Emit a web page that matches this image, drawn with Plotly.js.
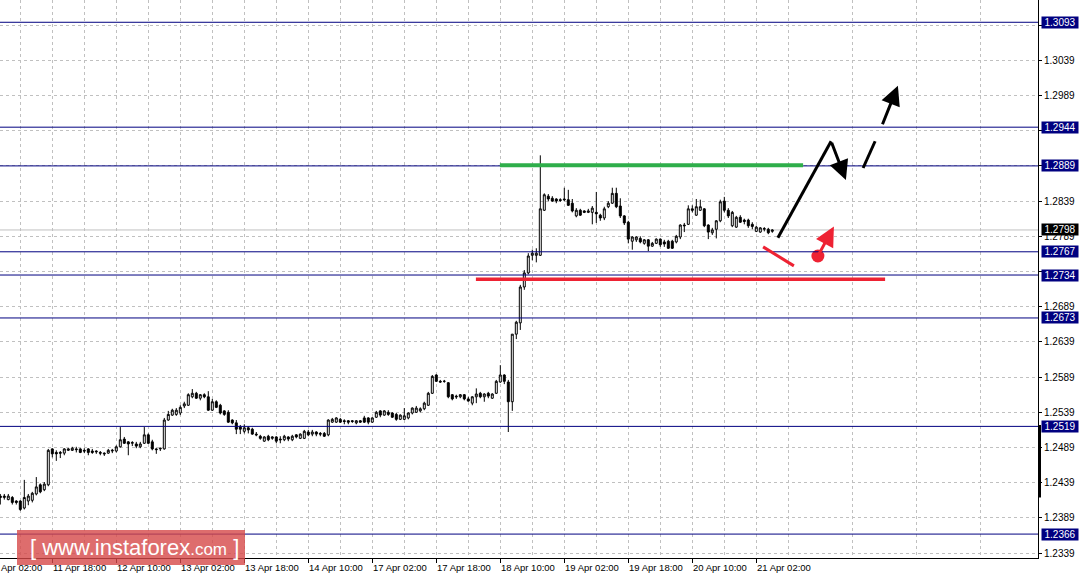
<!DOCTYPE html>
<html><head><meta charset="utf-8">
<script src="https://cdn.plot.ly/plotly-3.0.1.min.js"></script>
<style>html,body{margin:0;padding:0;background:#fff;overflow:hidden}#chart{width:1080px;height:581px}</style>
</head><body><div id="chart"></div>
<script>
// ---- data (GBPUSD H1) ----
const openP = [
1.2420,1.2418,1.2415,1.2418,1.2413,1.2413,1.2403,1.2413,1.2414,1.2423,
1.2436,1.2429,1.2436,1.2487,1.2482,1.2482,1.2481,1.2485,1.2485,1.2487,
1.2487,1.2485,1.2487,1.2484,1.2484,1.2482,1.2481,1.2481,1.2484,1.2484,
1.2490,1.2501,1.2497,1.2495,1.2494,1.2490,1.2495,1.2507,1.2497,1.2487,
1.2487,1.2487,1.2528,1.2535,1.2536,1.2538,1.2548,1.2549,1.2561,1.2566,
1.2559,1.2564,1.2561,1.2542,1.2554,1.2549,1.2541,1.2539,1.2528,1.2524,
1.2518,1.2512,1.2517,1.2515,1.2508,1.2505,1.2498,1.2505,1.2502,1.2504,
1.2501,1.2500,1.2504,1.2500,1.2507,1.2502,1.2502,1.2511,1.2508,1.2511,
1.2509,1.2509,1.2507,1.2525,1.2525,1.2529,1.2527,1.2527,1.2527,1.2524,
1.2527,1.2531,1.2531,1.2525,1.2532,1.2541,1.2535,1.2539,1.2538,1.2536,
1.2529,1.2529,1.2531,1.2538,1.2539,1.2541,1.2544,1.2549,1.2566,1.2592,
1.2583,1.2583,1.2581,1.2564,1.2562,1.2561,1.2564,1.2558,1.2552,1.2561,
1.2566,1.2561,1.2566,1.2559,1.2566,1.2582,1.2592,1.2582,1.2554,1.2650,
1.2666,1.2717,1.2737,1.2762,1.2762,1.2762,1.2826,1.2846,1.2843,1.2842,
1.2841,1.2842,1.2841,1.2836,1.2818,1.2826,1.2825,1.2823,1.2823,1.2823,
1.2819,1.2815,1.2831,1.2836,1.2850,1.2832,1.2818,1.2809,1.2782,1.2784,
1.2786,1.2779,1.2784,1.2775,1.2779,1.2785,1.2781,1.2782,1.2782,1.2781,
1.2788,1.2805,1.2806,1.2828,1.2819,1.2826,1.2828,1.2805,1.2794,1.2799,
1.2811,1.2839,1.2826,1.2804,1.2802,1.2816,1.2812,1.2812,1.2806,1.2796,
1.2795,1.2799,1.2799,1.2796];
const highP = [
1.2423,1.2423,1.2423,1.2420,1.2414,1.2414,1.2443,1.2423,1.2426,1.2447,
1.2438,1.2440,1.2487,1.2488,1.2485,1.2484,1.2488,1.2488,1.2490,1.2490,
1.2488,1.2488,1.2488,1.2487,1.2485,1.2484,1.2482,1.2487,1.2487,1.2492,
1.2518,1.2504,1.2498,1.2498,1.2497,1.2497,1.2518,1.2509,1.2500,1.2488,
1.2488,1.2531,1.2541,1.2544,1.2545,1.2549,1.2554,1.2566,1.2572,1.2568,
1.2565,1.2566,1.2569,1.2558,1.2556,1.2551,1.2542,1.2542,1.2529,1.2528,
1.2521,1.2522,1.2519,1.2517,1.2511,1.2507,1.2505,1.2507,1.2505,1.2505,
1.2505,1.2507,1.2505,1.2507,1.2508,1.2509,1.2514,1.2514,1.2514,1.2512,
1.2511,1.2511,1.2529,1.2531,1.2532,1.2531,1.2529,1.2528,1.2528,1.2528,
1.2528,1.2534,1.2532,1.2532,1.2541,1.2542,1.2542,1.2542,1.2539,1.2538,
1.2536,1.2545,1.2539,1.2546,1.2548,1.2546,1.2554,1.2568,1.2592,1.2593,
1.2585,1.2585,1.2582,1.2565,1.2564,1.2565,1.2565,1.2561,1.2562,1.2573,
1.2568,1.2566,1.2568,1.2566,1.2585,1.2606,1.2593,1.2585,1.2650,1.2669,
1.2720,1.2741,1.2765,1.2770,1.2772,1.2904,1.2850,1.2849,1.2846,1.2843,
1.2843,1.2858,1.2855,1.2842,1.2829,1.2828,1.2826,1.2828,1.2832,1.2852,
1.2821,1.2831,1.2839,1.2858,1.2858,1.2843,1.2819,1.2811,1.2789,1.2789,
1.2789,1.2785,1.2785,1.2781,1.2786,1.2786,1.2784,1.2784,1.2784,1.2791,
1.2806,1.2808,1.2833,1.2833,1.2842,1.2841,1.2829,1.2806,1.2801,1.2812,
1.2841,1.2845,1.2829,1.2825,1.2818,1.2819,1.2814,1.2814,1.2809,1.2804,
1.2802,1.2802,1.2801,1.2799];
const lowP = [
1.2408,1.2415,1.2414,1.2408,1.2408,1.2399,1.2401,1.2407,1.2411,1.2421,
1.2424,1.2427,1.2434,1.2475,1.2470,1.2474,1.2478,1.2484,1.2484,1.2482,
1.2481,1.2481,1.2478,1.2480,1.2480,1.2478,1.2477,1.2480,1.2481,1.2482,
1.2489,1.2494,1.2478,1.2491,1.2488,1.2488,1.2494,1.2494,1.2485,1.2480,
1.2484,1.2486,1.2527,1.2534,1.2534,1.2535,1.2545,1.2548,1.2559,1.2558,
1.2556,1.2559,1.2541,1.2541,1.2545,1.2536,1.2534,1.2524,1.2522,1.2508,
1.2508,1.2509,1.2509,1.2507,1.2505,1.2500,1.2497,1.2498,1.2500,1.2495,
1.2495,1.2498,1.2498,1.2498,1.2502,1.2501,1.2501,1.2505,1.2505,1.2505,
1.2505,1.2504,1.2505,1.2524,1.2524,1.2524,1.2522,1.2522,1.2524,1.2522,
1.2524,1.2524,1.2522,1.2524,1.2531,1.2532,1.2534,1.2534,1.2531,1.2527,
1.2528,1.2528,1.2529,1.2536,1.2538,1.2539,1.2542,1.2548,1.2565,1.2582,
1.2581,1.2581,1.2559,1.2556,1.2558,1.2559,1.2556,1.2554,1.2549,1.2552,
1.2559,1.2554,1.2559,1.2558,1.2565,1.2581,1.2579,1.2511,1.2541,1.2643,
1.2656,1.2713,1.2735,1.2755,1.2752,1.2761,1.2825,1.2839,1.2838,1.2836,
1.2838,1.2839,1.2832,1.2823,1.2816,1.2818,1.2822,1.2822,1.2806,1.2808,
1.2811,1.2812,1.2829,1.2835,1.2829,1.2815,1.2805,1.2779,1.2770,1.2781,
1.2779,1.2777,1.2768,1.2774,1.2778,1.2774,1.2774,1.2771,1.2771,1.2779,
1.2785,1.2795,1.2805,1.2823,1.2818,1.2825,1.2802,1.2785,1.2791,1.2786,
1.2809,1.2823,1.2815,1.2802,1.2801,1.2808,1.2806,1.2801,1.2799,1.2795,
1.2794,1.2796,1.2792,1.2794];
const closeP = [
1.2418,1.2420,1.2420,1.2411,1.2411,1.2401,1.2418,1.2420,1.2424,1.2433,
1.2426,1.2437,1.2485,1.2480,1.2480,1.2481,1.2487,1.2487,1.2488,1.2486,
1.2482,1.2484,1.2482,1.2482,1.2483,1.2481,1.2480,1.2485,1.2485,1.2490,
1.2500,1.2495,1.2494,1.2496,1.2491,1.2494,1.2507,1.2495,1.2487,1.2486,
1.2488,1.2528,1.2536,1.2542,1.2542,1.2546,1.2551,1.2564,1.2566,1.2559,
1.2564,1.2561,1.2542,1.2554,1.2546,1.2538,1.2536,1.2525,1.2524,1.2515,
1.2515,1.2517,1.2514,1.2508,1.2507,1.2502,1.2504,1.2500,1.2504,1.2498,
1.2500,1.2505,1.2501,1.2505,1.2504,1.2508,1.2512,1.2507,1.2511,1.2508,
1.2508,1.2505,1.2528,1.2529,1.2531,1.2525,1.2526,1.2525,1.2526,1.2527,
1.2525,1.2525,1.2525,1.2531,1.2539,1.2535,1.2541,1.2536,1.2532,1.2529,
1.2535,1.2534,1.2538,1.2545,1.2545,1.2544,1.2552,1.2566,1.2590,1.2583,
1.2582,1.2583,1.2561,1.2558,1.2561,1.2564,1.2558,1.2555,1.2561,1.2565,
1.2561,1.2565,1.2562,1.2565,1.2583,1.2592,1.2583,1.2554,1.2650,1.2667,
1.2717,1.2737,1.2761,1.2765,1.2765,1.2828,1.2848,1.2842,1.2839,1.2839,
1.2840,1.2841,1.2833,1.2825,1.2826,1.2819,1.2823,1.2825,1.2829,1.2821,
1.2815,1.2828,1.2836,1.2850,1.2831,1.2818,1.2808,1.2785,1.2788,1.2788,
1.2781,1.2784,1.2775,1.2779,1.2785,1.2777,1.2778,1.2772,1.2772,1.2789,
1.2805,1.2804,1.2828,1.2826,1.2831,1.2831,1.2804,1.2795,1.2798,1.2811,
1.2838,1.2826,1.2818,1.2823,1.2816,1.2809,1.2810,1.2804,1.2803,1.2802,
1.2801,1.2800,1.2794,1.2798];

// time-axis labels (bar index of each label, every 16 H1 bars)
const tickBars   = [-3,13,29,45,61,77,93,109,125,141,157,173,189];
const tickLabels = ["11 Apr 02:00","11 Apr 18:00","12 Apr 10:00","13 Apr 02:00","13 Apr 18:00",
  "14 Apr 10:00","17 Apr 02:00","17 Apr 18:00","18 Apr 10:00","19 Apr 02:00","19 Apr 18:00",
  "20 Apr 10:00","21 Apr 02:00"];
// price axis grid and its labels (labels hidden where a level box covers them)
const priceTicks = [1.2339,1.2389,1.2439,1.2489,1.2539,1.2589,1.2639,1.2689,1.2739,1.2789,
  1.2839,1.2889,1.2939,1.2989,1.3039,1.3089];
const priceTickText = ["1.2339","1.2389","1.2439","1.2489","1.2539","1.2589","1.2639","1.2689","",
  "1.2789","1.2839","","","1.2989","1.3039",""];
// horizontal levels
const levelPrices = [1.3093,1.2944,1.2889,1.2767,1.2734,1.2673,1.2519,1.2366];
const bidPrice = 1.2798;
// analyst drawings (bar index, price)
const greenLine = {x:[124.9,200.7], y:[1.2890,1.2890]};
const redLine   = {x:[118.9,221.2], y:[1.2728,1.2728]};
const redDiag   = {x:[190.7,198.4], y:[1.2774,1.2747]};
const redDot    = {x:[204.4], y:[1.2761]};
const redArrow  = {x:[204.4,208.4], y:[1.2761,1.2803]};
const blackUp   = {x:[194.4,207.7], y:[1.2787,1.2924]};
const blackDown = {x:[207.7,211.4], y:[1.2924,1.2869]};
const blackMid  = {x:[215.7,218.7], y:[1.2886,1.2924]};
const blackTop  = {x:[220.4,224.4], y:[1.2946,1.3003]};

const xRange = [-0.075, 259.425];
const yRange = [1.233204, 1.312465];

const bars = openP.map((_, i) => i);
const FONT = 'Liberation Sans, Arial, sans-serif';

const traces = [{
  type:'candlestick', x:bars, open:openP, high:highP, low:lowP, close:closeP,
  increasing:{line:{color:'#000', width:1}, fillcolor:'#ffffff'},
  decreasing:{line:{color:'#000', width:1}, fillcolor:'#000000'},
  whiskerwidth:0, hoverinfo:'skip', showlegend:false
},{
  type:'scatter', mode:'markers', x:redDot.x, y:redDot.y,
  marker:{color:'#ee2233', size:13}, cliponaxis:false, hoverinfo:'skip', showlegend:false
}];

const shapes = [];
levelPrices.forEach(p => shapes.push({type:'line', xref:'paper', x0:0, x1:1, yref:'y', y0:p, y1:p,
  line:{color:'#000080', width:1}, layer:'above'}));
shapes.push({type:'line', xref:'paper', x0:0, x1:1, yref:'y', y0:bidPrice, y1:bidPrice,
  line:{color:'#c0c0c0', width:1}, layer:'below'});
function seg(o, color, w){ shapes.push({type:'line', xref:'x', yref:'y', x0:o.x[0], x1:o.x[1], y0:o.y[0], y1:o.y[1], line:{color:color, width:w}, layer:'above'}); }
seg(greenLine, '#2eae4a', 4);
seg(redLine, '#ee2233', 3.5);
seg(redDiag, '#ee2233', 3);
seg(blackUp, '#000', 3);
seg(blackMid, '#000', 3);
// right-side black bar
shapes.push({type:'line', xref:'paper', x0:1+1.5/1038, x1:1+1.5/1038, yref:'y', y0:1.2418, y1:1.2521,
  line:{color:'#000', width:3}, layer:'above'});
// watermark box
shapes.push({type:'rect', xref:'paper', yref:'paper', x0:17/1038, x1:245/1038, y0:1-565/558, y1:1-530/558,
  fillcolor:'rgba(214,72,72,0.8)', line:{width:0}, layer:'above'});

const annotations = [];
tickBars.forEach((v, i) => {
  const inRange = v >= xRange[0];
  annotations.push({
    xref: inRange ? 'x' : 'paper',
    x: inRange ? v : (v - xRange[0]) / (xRange[1] - xRange[0]),
    yref:'paper', y:0, xanchor:'left', yanchor:'top', yshift:-2, xshift:-1,
    text: tickLabels[i], showarrow:false, font:{family:FONT, size:9.5, color:'#000'}
  });
});
levelPrices.forEach(p => annotations.push({xref:'paper', x:1, xanchor:'left', xshift:3, yref:'y', y:p,
  text:p.toFixed(4), showarrow:false, bgcolor:'#000080', width:36, height:11, borderpad:0,
  font:{family:FONT, size:10, color:'#fff'}}));
annotations.push({xref:'paper', x:1, xanchor:'left', xshift:3, yref:'y', y:bidPrice,
  text:bidPrice.toFixed(4), showarrow:false, bgcolor:'#000', width:36, height:11, borderpad:0,
  font:{family:FONT, size:10, color:'#fff'}});
function arrow(o, color){ annotations.push({xref:'x', yref:'y', axref:'x', ayref:'y',
  x:o.x[1], y:o.y[1], ax:o.x[0], ay:o.y[0], text:'', showarrow:true, arrowhead:2,
  arrowsize:1.3, arrowwidth:3, arrowcolor:color, standoff:0, startstandoff:0}); }
arrow(blackDown, '#000');
arrow(blackTop, '#000');
arrow(redArrow, '#ee2233');
annotations.push({xref:'paper', yref:'paper', x:134/1038, y:1-547/558, xanchor:'center', yanchor:'middle',
  showarrow:false, font:{family:FONT, size:22, color:'#fff'},
  text:'[ <span style="font-size:22px">www.instaforex</span><span style="font-size:17px">.com</span> ]'});

const minorGrid = [];
for (let v = 5; v < xRange[1]; v += 16) minorGrid.push(v);

const layout = {
  width:1080, height:581, margin:{l:0, r:42, t:0, b:23},
  paper_bgcolor:'#fff', plot_bgcolor:'#fff', showlegend:false,
  font:{family:FONT, size:10, color:'#000'},
  xaxis:{range:xRange, tickmode:'array', tickvals:tickBars, showticklabels:false,
    ticks:'outside', ticklen:4, tickcolor:'#000', showline:true, linecolor:'#000', linewidth:1,
    showgrid:true, gridcolor:'#c0c0c0', griddash:'3px,3px', gridwidth:1, zeroline:false,
    rangeslider:{visible:false}, fixedrange:true,
    minor:{tickmode:'array', tickvals:minorGrid, showgrid:true, gridcolor:'#c0c0c0', griddash:'3px,3px', ticks:''}},
  yaxis:{range:yRange, side:'right', tickmode:'array', tickvals:priceTicks, ticktext:priceTickText,
    ticks:'outside', ticklen:3, tickcolor:'#000', showline:true, linecolor:'#000', linewidth:1,
    showgrid:true, gridcolor:'#c0c0c0', griddash:'3px,3px', gridwidth:1, zeroline:false,
    tickfont:{family:FONT, size:10, color:'#000'}, fixedrange:true},
  shapes:shapes, annotations:annotations
};
Plotly.newPlot('chart', traces, layout, {staticPlot:true, displayModeBar:false});
</script></body></html>
